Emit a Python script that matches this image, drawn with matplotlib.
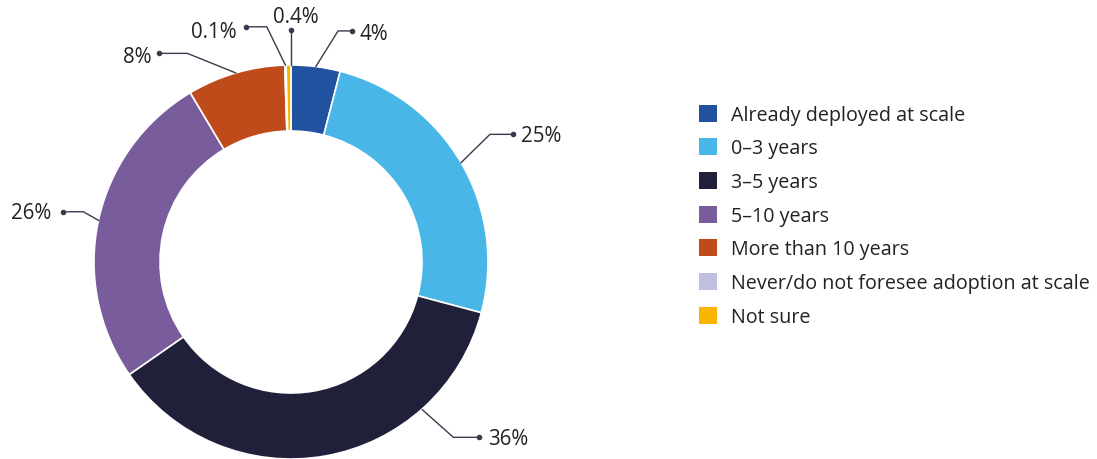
import matplotlib
matplotlib.use("Agg")
import matplotlib.pyplot as plt
import numpy as np
from matplotlib.patches import Rectangle

plt.rcParams['font.family'] = ['Open Sans', 'DejaVu Sans']

categories = ["Already deployed at scale", "0\u20133 years", "3\u20135 years", "5\u201310 years",
              "More than 10 years", "Never/do not foresee adoption at scale", "Not sure"]
values = [4, 25, 36, 26, 8, 0.1, 0.4]
labels = ["4%", "25%", "36%", "26%", "8%", "0.1%", "0.4%"]
colors = ["#2152A0", "#48B7E8", "#20203A", "#795C9B", "#BF4A1A", "#BEC0E2", "#FAB400"]

W, H, DPI = 1097, 459, 100
fig = plt.figure(figsize=(W / DPI, H / DPI), dpi=DPI)
fig.patch.set_facecolor("white")

# pie axes: center (291, 262) px from top, radius 197 px
R = 197
cx, cy = 291, 262
ax = fig.add_axes([(cx - R) / W, (H - cy - R) / H, 2 * R / W, 2 * R / H])

wedges, _ = ax.pie(values, colors=colors, startangle=90, counterclock=False,
                   radius=1, wedgeprops=dict(width=0.335, edgecolor="white", linewidth=1.2))
ax.set_xlim(-1, 1)
ax.set_ylim(-1, 1)
ax.set_aspect("equal")
ax.axis("off")

# label layout (units of radius): start override, elbow, dot, text anchor, alignment
layout = [
    dict(start=None, elbow=(0.239, 1.173), dot=(0.310, 1.173), text=(0.350, 1.168), ha="left"),
    dict(start=None, elbow=(1.010, 0.648), dot=(1.128, 0.648), text=(1.166, 0.651), ha="left"),
    dict(start=(0.667, -0.750), elbow=(0.824, -0.890), dot=(0.954, -0.890), text=(1.002, -0.889), ha="left"),
    dict(start=None, elbow=(-1.054, 0.255), dot=(-1.159, 0.255), text=(-1.215, 0.256), ha="right"),
    dict(start=None, elbow=(-0.526, 1.059), dot=(-0.670, 1.059), text=(-0.707, 1.051), ha="right"),
    dict(start=None, elbow=(-0.123, 1.194), dot=(-0.230, 1.194), text=(-0.276, 1.178), ha="right"),
    dict(start=(0.0, 1.0), elbow=(0.0, 1.178), dot=(0.0, 1.178), text=(0.022, 1.254), ha="center"),
]
text_dy = -0.012  # small baseline correction

line_col = "#3a3a4e"
for w, lab, lay in zip(wedges, labels, layout):
    if lay["start"] is None:
        ang = np.deg2rad((w.theta1 + w.theta2) / 2)
        sx, sy = np.cos(ang), np.sin(ang)
    else:
        sx, sy = lay["start"]
    ex, ey = lay["elbow"]
    dx, dy = lay["dot"]
    ax.plot([sx, ex, dx], [sy, ey, dy], color=line_col, lw=1.0, clip_on=False,
            solid_joinstyle="miter")
    ax.plot([dx], [dy], marker="o", ms=3, color=line_col, clip_on=False)
    tx, ty = lay["text"]
    ax.text(tx, ty + text_dy, lab, ha=lay["ha"], va="center", fontsize=14.8, color="#222222",
            clip_on=False)

# legend drawn in pixel coords
lax = fig.add_axes([0, 0, 1, 1])
lax.set_xlim(0, W)
lax.set_ylim(H, 0)
lax.axis("off")
row_y0, row_dy = 113.3, 33.67
for i, (cat, col) in enumerate(zip(categories, colors)):
    y = row_y0 + i * row_dy
    lax.add_patch(Rectangle((699, y - 8.5), 17.5, 17, facecolor=col, edgecolor="none"))
    lax.text(731, y + 2.2, cat, ha="left", va="center", fontsize=14.2, color="#222222")

fig.savefig("out.png", dpi=DPI, facecolor="white")
